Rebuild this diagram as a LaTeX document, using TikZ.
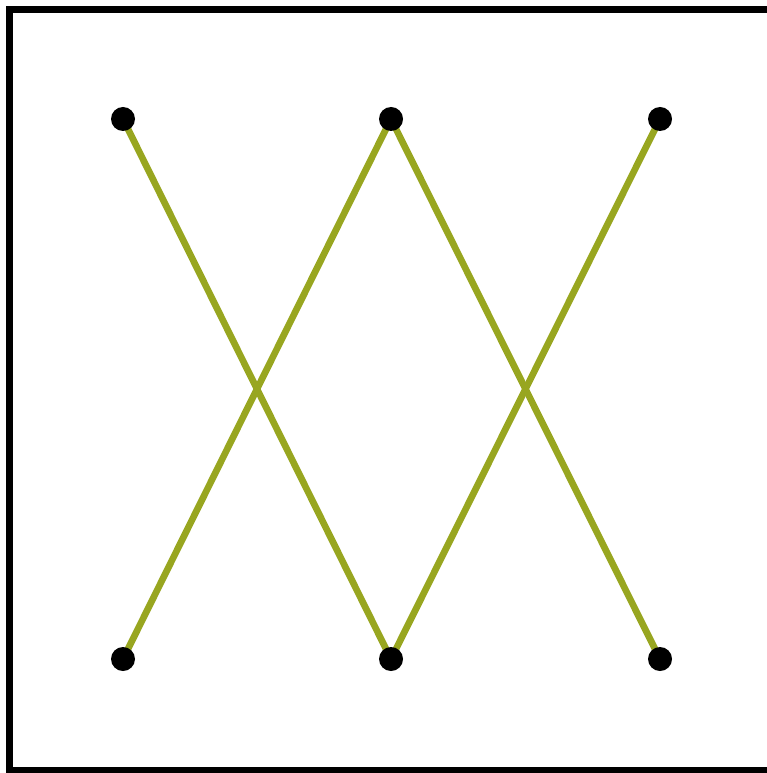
\documentclass[tikz,border=0pt]{standalone}
\definecolor{olivel}{RGB}{152,166,32}
\begin{document}
\begin{tikzpicture}[x=0.75pt,y=-0.75pt,
  dot/.style={circle,fill=black,inner sep=0pt,minimum size=18pt},
  edge/.style={draw=olivel,line width=5pt},
  frame/.style={draw=black,line width=5.25pt}]
\useasboundingbox (0,0) rectangle (766,773);
\draw[frame] (9.5,9.5) rectangle (780,770.5);
\coordinate (a1) at (123,119);
\coordinate (a2) at (391,119);
\coordinate (a3) at (660,119);
\coordinate (b1) at (123,659);
\coordinate (b2) at (391,659);
\coordinate (b3) at (660,659);
\draw[edge] (a1) -- (b2);
\draw[edge] (a2) -- (b1);
\draw[edge] (a2) -- (b3);
\draw[edge] (a3) -- (b2);
\foreach \n in {a1,a2,a3,b1,b2,b3} \node[dot] (d\n) at (\n) {};
\end{tikzpicture}
\end{document}
